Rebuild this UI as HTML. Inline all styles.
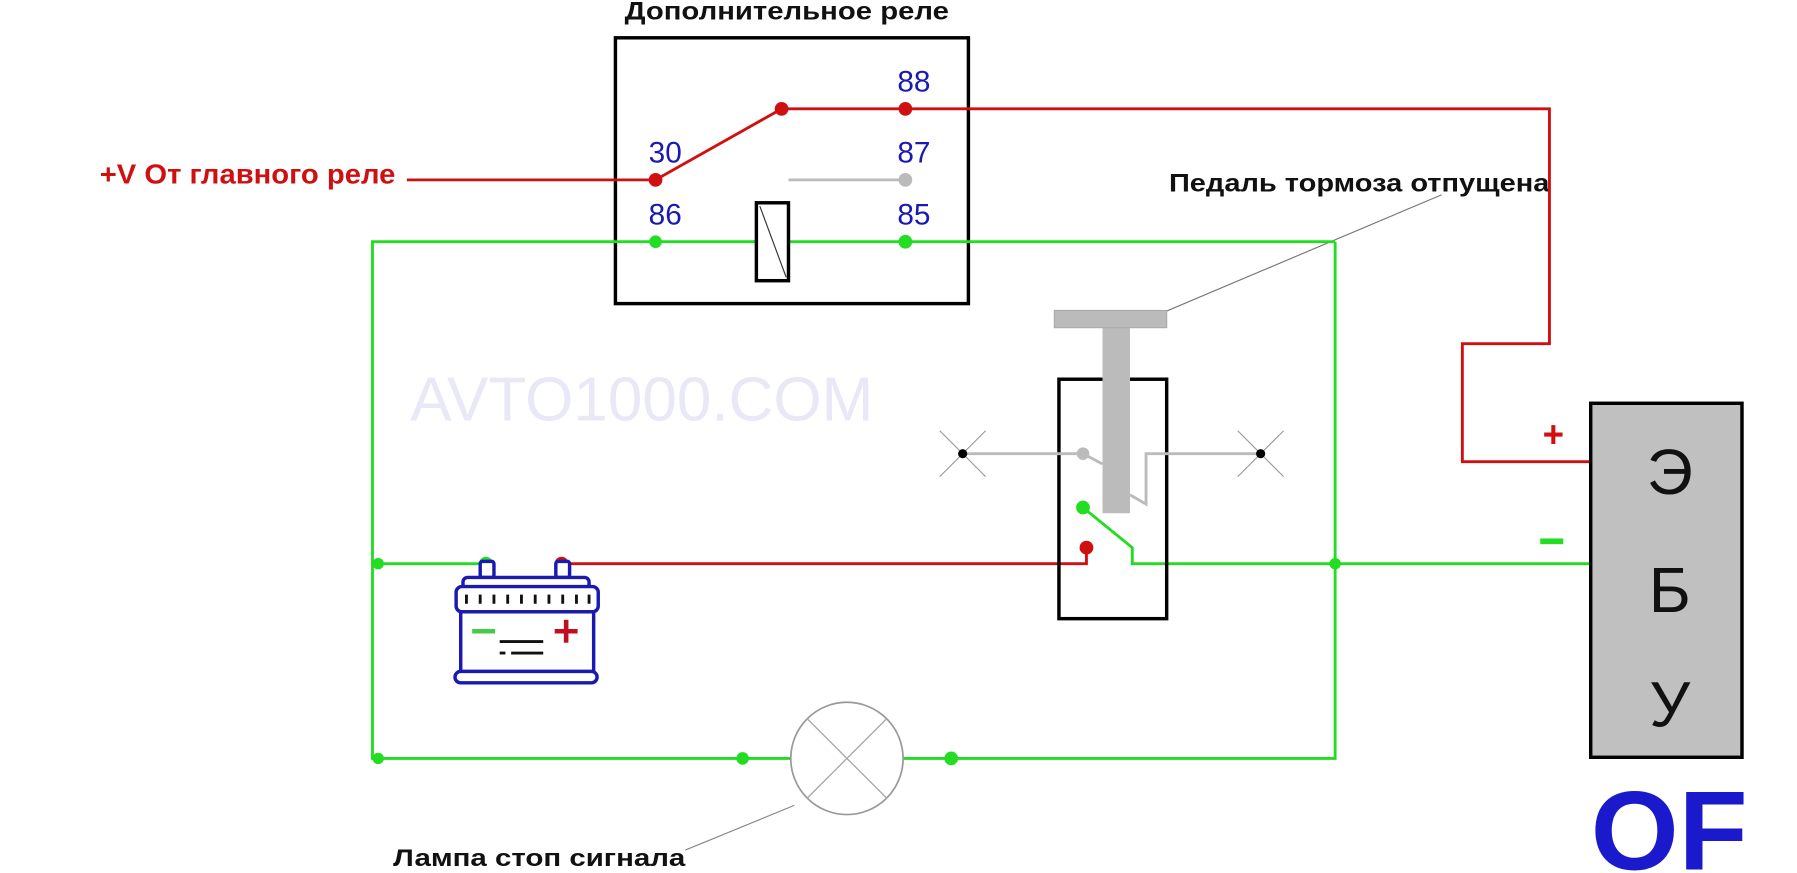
<!DOCTYPE html>
<html><head><meta charset="utf-8"><style>
html,body{margin:0;padding:0;background:#fff;}
svg{display:block;}
text{font-family:"Liberation Sans","DejaVu Sans",sans-serif;}
</style></head><body>
<svg width="1797" height="873" viewBox="0 0 1568 762" preserveAspectRatio="none" xmlns="http://www.w3.org/2000/svg">
<rect width="1568" height="762" fill="#fff"/>
<text x="358" y="367" font-size="54" fill="#e8e8f6" textLength="404" lengthAdjust="spacingAndGlyphs">AVTO1000.COM</text>
<text x="545" y="17" font-size="22" font-weight="bold" fill="#111" textLength="283" lengthAdjust="spacingAndGlyphs">Дополнительное реле</text>
<text x="87" y="160" font-size="24" font-weight="bold" fill="#d01010" textLength="258" lengthAdjust="spacingAndGlyphs">+V От главного реле</text>
<text x="1020" y="167" font-size="22" font-weight="bold" fill="#111" textLength="332" lengthAdjust="spacingAndGlyphs">Педаль тормоза отпущена</text>
<text x="343" y="756" font-size="21" font-weight="bold" fill="#111" textLength="255" lengthAdjust="spacingAndGlyphs">Лампа стоп сигнала</text>
<line x1="1012" y1="274" x2="1258" y2="170" stroke="#777" stroke-width="1"/>
<line x1="598" y1="742" x2="693" y2="703" stroke="#888" stroke-width="1"/>
<rect x="537" y="33" width="308" height="232" fill="none" stroke="#000" stroke-width="3"/>
<g font-size="26" fill="#1a1ab0">
<text x="566" y="142">30</text><text x="783" y="80">88</text><text x="783" y="142">87</text>
<text x="566" y="196">86</text><text x="783" y="196">85</text>
</g>
<g stroke="#d01010" stroke-width="2.5" fill="none">
<polyline points="355,157 572,157 682,95 1352,95 1352,300 1276,300 1276,403 1388,403"/>
<polyline points="490,492 948,492 948,478"/>
</g>
<g fill="#d01010"><circle cx="572" cy="157" r="6"/><circle cx="682" cy="95" r="6"/><circle cx="790" cy="95" r="6"/><circle cx="490" cy="492" r="6"/><circle cx="948" cy="478" r="6"/></g>
<line x1="688" y1="157" x2="790" y2="157" stroke="#bbb" stroke-width="2.5"/>
<circle cx="790" cy="157" r="6" fill="#bbb"/>
<g stroke="#22dd22" stroke-width="2.5" fill="none">
<polyline points="1165,211 325,211 325,662 690,662"/>
<polyline points="788,662 1165,662 1165,211"/>
<line x1="325" y1="492" x2="424" y2="492"/>
<polyline points="945,443 988,478 988,492 1388,492"/>
</g>
<g fill="#22dd22"><circle cx="572" cy="211" r="5.5"/><circle cx="790" cy="211" r="6"/><circle cx="330" cy="492" r="5"/><circle cx="424" cy="492" r="6"/><circle cx="330" cy="662" r="5"/><circle cx="648" cy="662" r="5.5"/><circle cx="830" cy="662" r="6"/><circle cx="1165" cy="492" r="5"/><circle cx="945" cy="443" r="6"/></g>
<rect x="660" y="177" width="28" height="68" fill="#fff" stroke="#000" stroke-width="3"/>
<line x1="663" y1="180" x2="686" y2="242" stroke="#333" stroke-width="1"/>
<circle cx="739" cy="662" r="49" fill="#fff" stroke="#999" stroke-width="1.5"/>
<line x1="704" y1="627" x2="774" y2="697" stroke="#aaa" stroke-width="1.2"/>
<line x1="774" y1="627" x2="704" y2="697" stroke="#aaa" stroke-width="1.2"/>
<rect x="924" y="331" width="94" height="209" fill="none" stroke="#000" stroke-width="3"/>
<g stroke="#bbb" stroke-width="2.5" fill="none">
<polyline points="840,396 945,396 962,405"/>
<polyline points="986,432 1000,440 1000,396 1100,396"/>
</g>
<circle cx="945" cy="396" r="5.5" fill="#bbb"/>
<rect x="962" y="286" width="24" height="162" fill="#bbb"/>
<rect x="920" y="271" width="98" height="15" fill="#bbb" stroke="#aaa" stroke-width="1"/>
<g stroke="#999" stroke-width="1">
<line x1="820" y1="376" x2="860" y2="416"/><line x1="860" y1="376" x2="820" y2="416"/>
<line x1="1080" y1="376" x2="1120" y2="416"/><line x1="1120" y1="376" x2="1080" y2="416"/>
</g>
<circle cx="840" cy="396" r="4" fill="#000"/><circle cx="1100" cy="396" r="4" fill="#000"/>
<g stroke="#1a1ab0" stroke-width="3" fill="#fff">
<rect x="419" y="490" width="12" height="14" rx="2"/>
<rect x="485" y="490" width="12" height="14" rx="2"/>
<rect x="404" y="504" width="110" height="10" rx="4"/>
<rect x="398" y="512" width="124" height="22" rx="5"/>
<rect x="402" y="534" width="116" height="54"/>
<rect x="397" y="586" width="124" height="10" rx="5"/>
</g>
<g stroke="#111" stroke-width="2.5">
<line x1="407" y1="519" x2="407" y2="527"/><line x1="419" y1="519" x2="419" y2="527"/><line x1="431" y1="519" x2="431" y2="527"/><line x1="443" y1="519" x2="443" y2="527"/><line x1="455" y1="519" x2="455" y2="527"/><line x1="467" y1="519" x2="467" y2="527"/><line x1="479" y1="519" x2="479" y2="527"/><line x1="491" y1="519" x2="491" y2="527"/><line x1="503" y1="519" x2="503" y2="527"/><line x1="514" y1="519" x2="514" y2="527"/>
<line x1="436" y1="560" x2="474" y2="560"/><line x1="446" y1="570" x2="474" y2="570"/><line x1="436" y1="570" x2="441" y2="570"/>
</g>
<line x1="412" y1="551" x2="432" y2="551" stroke="#44cc44" stroke-width="4"/>
<g stroke="#c01020" stroke-width="4"><line x1="484" y1="551" x2="504" y2="551"/><line x1="494" y1="541" x2="494" y2="561"/></g>
<rect x="1388" y="352" width="132" height="309" fill="#c0c0c0" stroke="#000" stroke-width="3"/>
<g font-size="56" fill="#111" text-anchor="middle">
<text x="1457" y="431">Э</text><text x="1457" y="534">Б</text><text x="1457" y="634">У</text>
</g>
<text x="1346" y="390" font-size="32" font-weight="bold" fill="#d01010">+</text>
<rect x="1344" y="470" width="20" height="5" fill="#22dd22"/>
<text x="1388" y="759" font-size="98" font-weight="bold" fill="#1a1acc" textLength="137" lengthAdjust="spacingAndGlyphs">OF</text>
</svg>
</body></html>
